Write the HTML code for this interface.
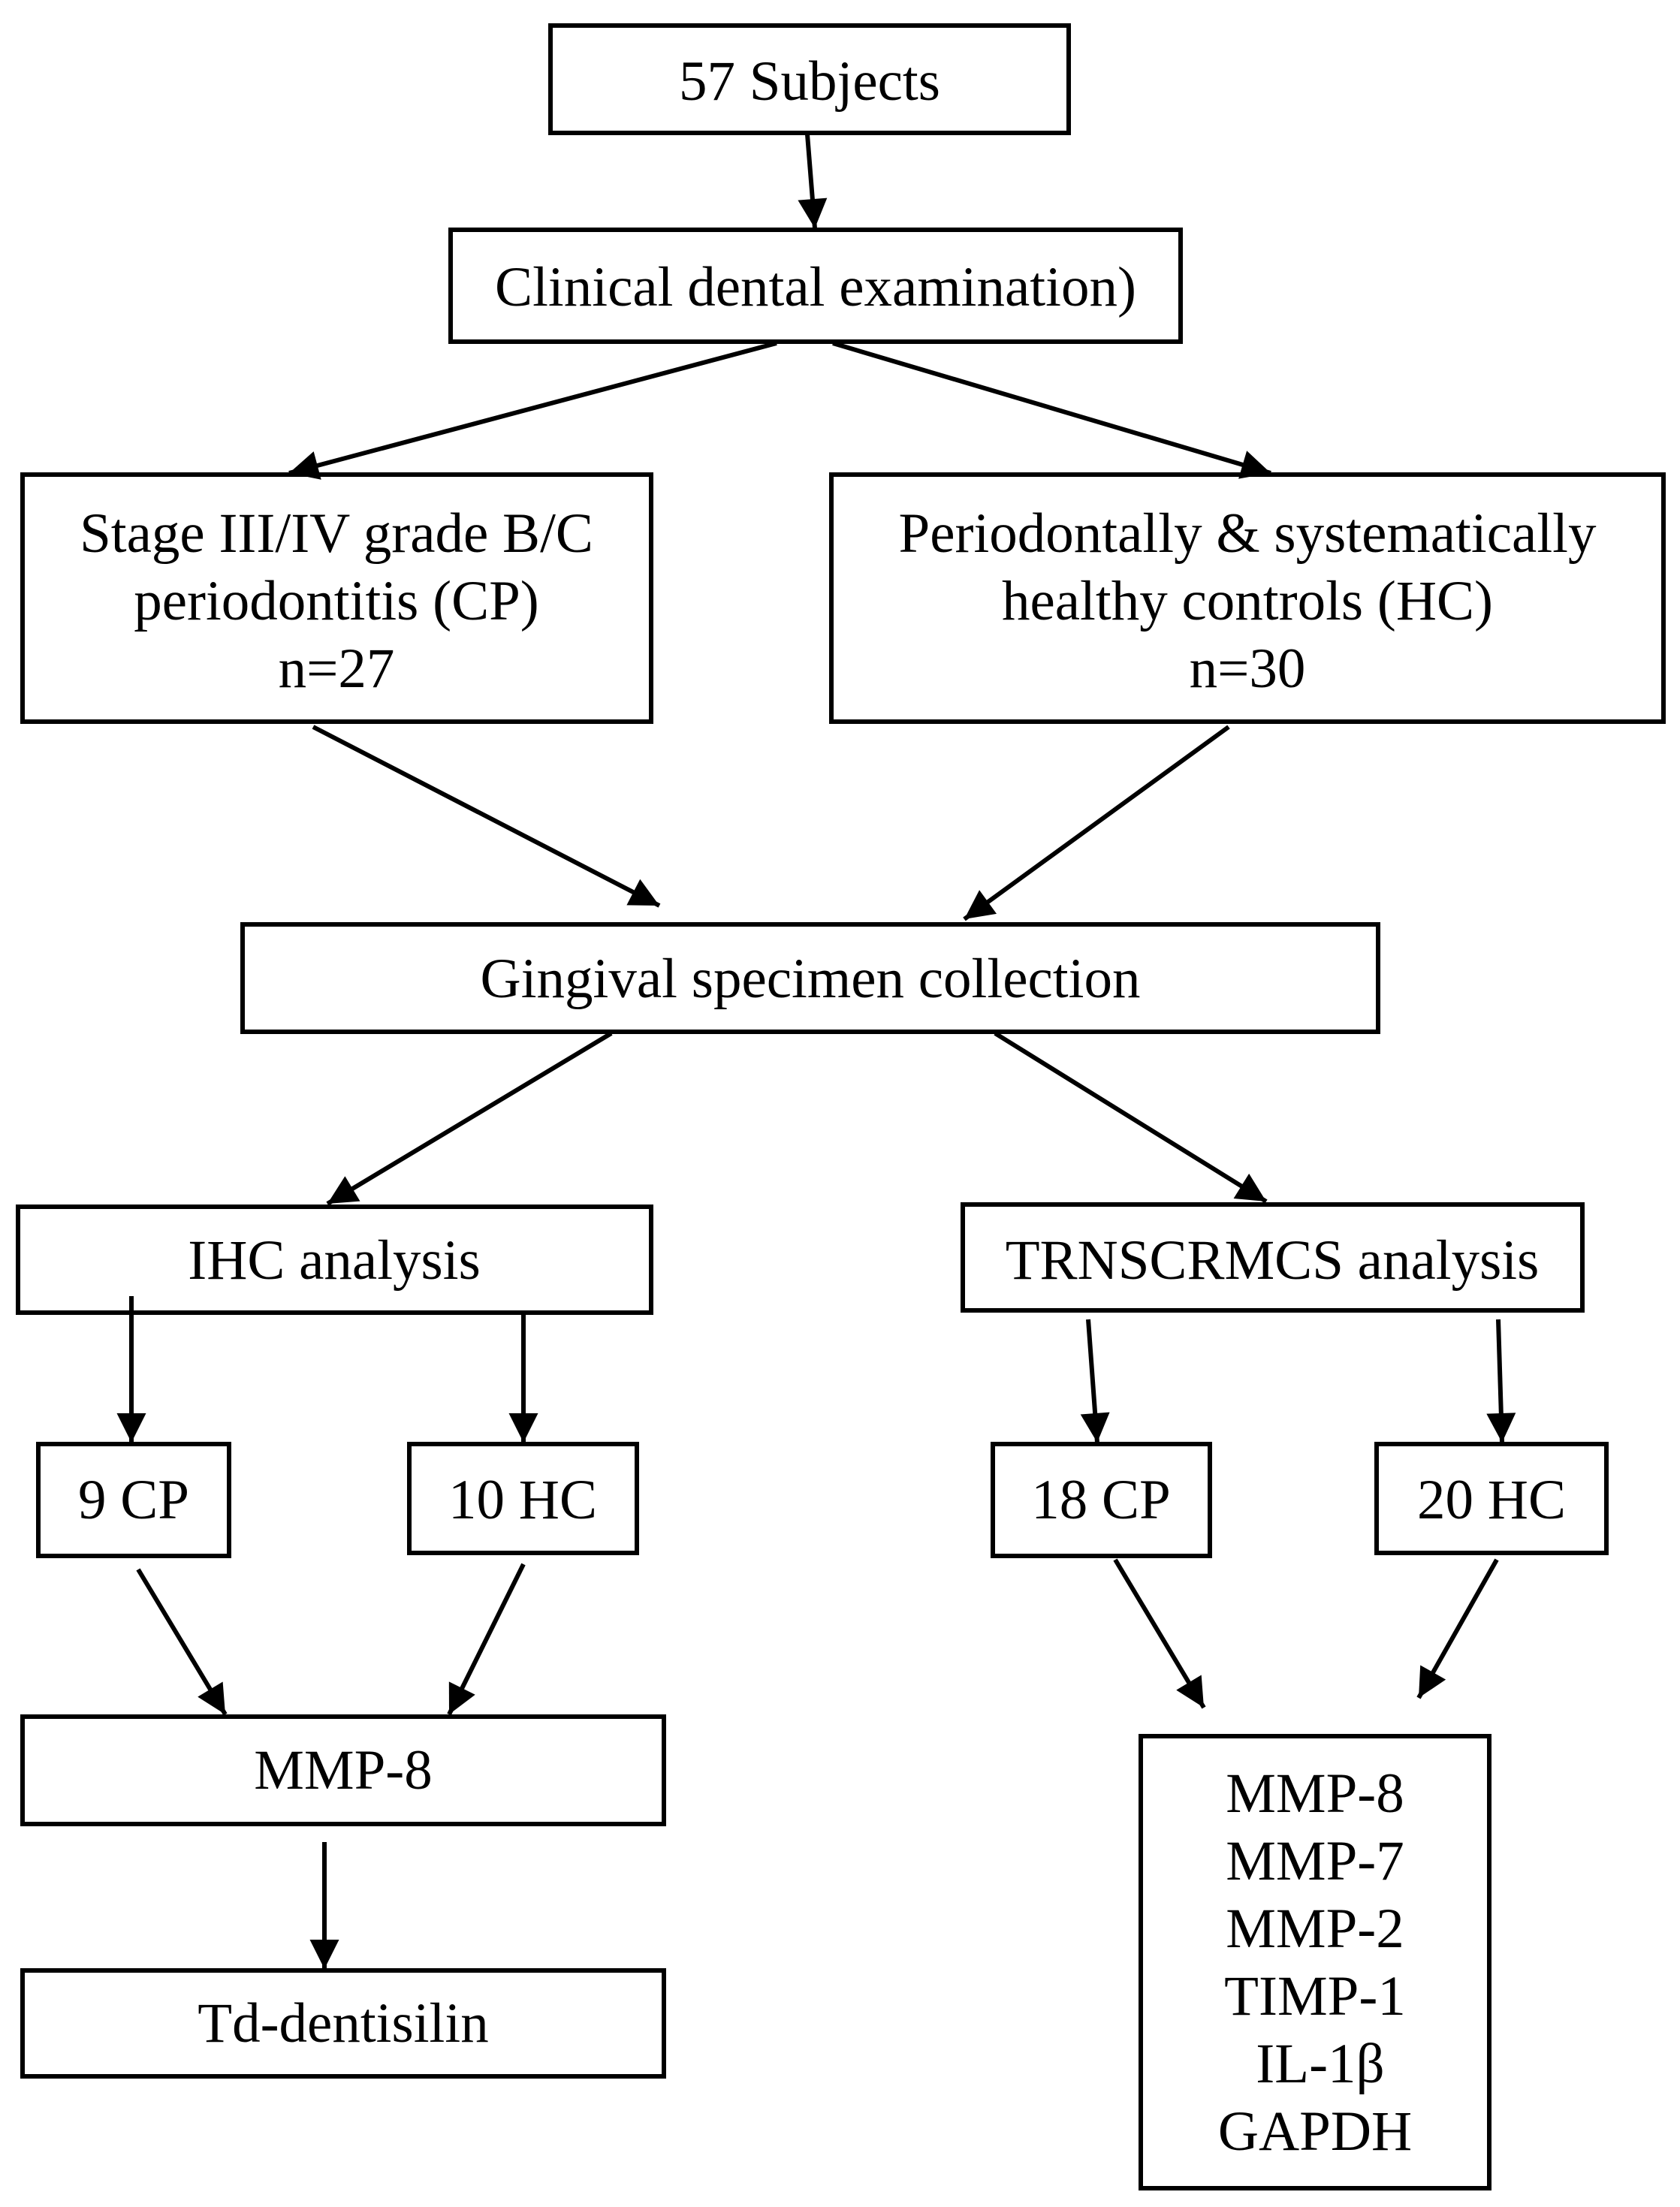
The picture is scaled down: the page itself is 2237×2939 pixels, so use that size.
<!DOCTYPE html>
<html><head><style>html,body{margin:0;padding:0;background:#fff}svg{display:block}</style></head>
<body>
<svg width="2237" height="2939" viewBox="0 0 2237 2939" xmlns="http://www.w3.org/2000/svg">
<defs>
<marker id="h" viewBox="0 0 10 10" refX="10" refY="5" markerWidth="7" markerHeight="6.5" orient="auto"><path d="M0,0 L10,5 L0,10 z" fill="#000"/></marker></defs>
<g fill="none" stroke="#000" stroke-width="6">
<rect x="733" y="34" width="690" height="143"/>
<rect x="600" y="306" width="972" height="149"/>
<rect x="30" y="632" width="837" height="329"/>
<rect x="1107" y="632" width="1108" height="329"/>
<rect x="323" y="1231" width="1512" height="143"/>
<rect x="24" y="1607" width="843" height="141"/>
<rect x="1282" y="1604" width="825" height="141"/>
<rect x="51" y="1923" width="254" height="149"/>
<rect x="545" y="1923" width="303" height="145"/>
<rect x="1322" y="1923" width="289" height="149"/>
<rect x="1833" y="1923" width="306" height="145"/>
<rect x="30" y="2286" width="854" height="143"/>
<rect x="30" y="2624" width="854" height="141"/>
<rect x="1519" y="2312" width="464" height="602"/>
</g>
<g stroke="#000" stroke-width="6" marker-end="url(#h)">
<line x1="1075" y1="179" x2="1085" y2="304"/>
<line x1="1034" y1="457" x2="385" y2="630"/>
<line x1="1109" y1="457" x2="1692" y2="630"/>
<line x1="417" y1="968" x2="878" y2="1206"/>
<line x1="1636" y1="968" x2="1284" y2="1224"/>
<line x1="814" y1="1376" x2="436" y2="1603"/>
<line x1="1325" y1="1376" x2="1686" y2="1600"/>
<line x1="175" y1="1726" x2="175" y2="1921"/>
<line x1="697" y1="1750" x2="697" y2="1921"/>
<line x1="1449" y1="1757" x2="1461" y2="1921"/>
<line x1="1995" y1="1757" x2="2000" y2="1921"/>
<line x1="184" y1="2090" x2="300" y2="2283"/>
<line x1="697" y1="2083" x2="598" y2="2283"/>
<line x1="1485" y1="2077" x2="1603" y2="2274"/>
<line x1="1993" y1="2077" x2="1889" y2="2261"/>
<line x1="432" y1="2453" x2="432" y2="2622"/>
</g>
<g font-family="'Liberation Serif',serif" font-size="75" text-anchor="middle" fill="#000">
<text x="1078" y="133">57 Subjects</text>
<text x="1086" y="407">Clinical dental examination)</text>
<text x="448" y="735">Stage III/IV grade B/C</text>
<text x="448" y="825">periodontitis (CP)</text>
<text x="448" y="915">n=27</text>
<text x="1661" y="735">Periodontally &amp; systematically</text>
<text x="1661" y="825">healthy controls (HC)</text>
<text x="1661" y="915">n=30</text>
<text x="1079" y="1328">Gingival specimen collection</text>
<text x="445" y="1703">IHC analysis</text>
<text x="1694" y="1703">TRNSCRMCS analysis</text>
<text x="178" y="2022">9 CP</text>
<text x="696" y="2022">10 HC</text>
<text x="1466" y="2022">18 CP</text>
<text x="1986" y="2022">20 HC</text>
<text x="457" y="2382">MMP-8</text>
<text x="457" y="2719">Td-dentisilin</text>
<text x="1751" y="2413">MMP-8</text>
<text x="1751" y="2503">MMP-7</text>
<text x="1751" y="2593">MMP-2</text>
<text x="1751" y="2683">TIMP-1</text>
<text x="1758" y="2773">IL-1β</text>
<text x="1751" y="2863">GAPDH</text>
</g>
</svg>
</body></html>
